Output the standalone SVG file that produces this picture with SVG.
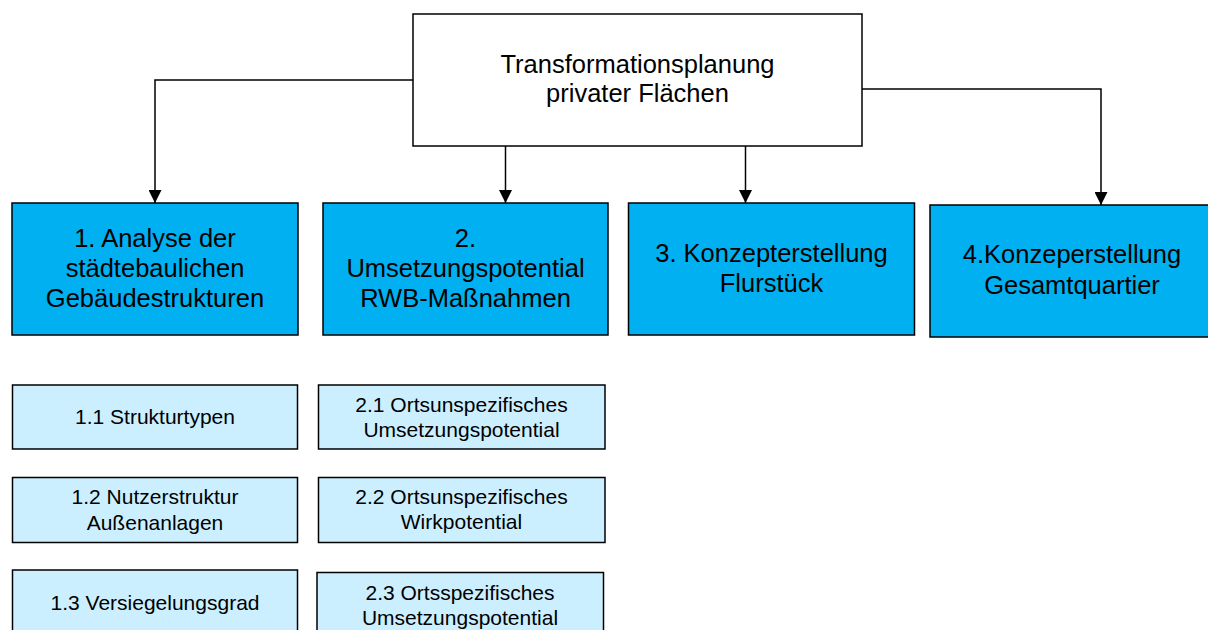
<svg xmlns="http://www.w3.org/2000/svg" width="1208" height="630" viewBox="0 0 1208 630">
<style>
  text { font-family: "Liberation Sans", Arial, sans-serif; fill: #000; text-anchor: middle; }
  .top { fill: #fff; stroke: #000; stroke-width: 1.5; }
  .main { fill: #00B0F0; stroke: #000; stroke-width: 1.5; }
  .sub { fill: #CCEFFF; stroke: #000; stroke-width: 1.5; }
  .t26 { font-size: 25.5px; }
  .t25 { font-size: 25.5px; }
  .t21 { font-size: 21px; }
  .conn { fill: none; stroke: #000; stroke-width: 1.5; marker-end: url(#arr); }
</style>
<defs>
  <marker id="arr" markerWidth="14" markerHeight="13" refX="13" refY="6.5" orient="auto" markerUnits="userSpaceOnUse">
    <path d="M0,0 L13,6.5 L0,13 Z" fill="#000"/>
  </marker>
</defs>
<rect width="1208" height="630" fill="#fff"/>
<g id="connectors">
  <path class="conn" d="M413,80 H155 V203"/>
  <path class="conn" d="M505.5,146 V203"/>
  <path class="conn" d="M745.5,146 V203"/>
  <path class="conn" d="M862,89 H1101 V205"/>
</g>
<g id="root">
  <rect class="top" x="413" y="14" width="449" height="132"/>
  <text class="t26" x="637.5" y="73">Transformationsplanung</text>
  <text class="t26" x="637.5" y="102">privater Flächen</text>
</g>
<g id="n1">
  <rect class="main" x="12" y="203" width="286" height="132"/>
  <text class="t25" x="155" y="246.5">1. Analyse der</text>
  <text class="t25" x="155" y="276.5">städtebaulichen</text>
  <text class="t25" x="155" y="306.5">Gebäudestrukturen</text>
</g>
<g id="n2">
  <rect class="main" x="323" y="203" width="285" height="132"/>
  <text class="t25" x="465.5" y="246.5">2.</text>
  <text class="t25" x="465.5" y="276.5">Umsetzungspotential</text>
  <text class="t25" x="465.5" y="306.5">RWB-Maßnahmen</text>
</g>
<g id="n3">
  <rect class="main" x="628.5" y="203" width="286" height="132"/>
  <text class="t25" x="771.5" y="261.5">3. Konzepterstellung</text>
  <text class="t25" x="771.5" y="291.5">Flurstück</text>
</g>
<g id="n4">
  <rect class="main" x="930" y="205" width="284" height="132"/>
  <text class="t25" x="1072" y="263">4.Konzeperstellung</text>
  <text class="t25" x="1072" y="293.5">Gesamtquartier</text>
</g>
<g id="n11">
  <rect class="sub" x="12.5" y="385" width="285" height="64"/>
  <text class="t21" x="155" y="424">1.1 Strukturtypen</text>
</g>
<g id="n12">
  <rect class="sub" x="12.5" y="477.5" width="285" height="65"/>
  <text class="t21" x="155" y="503.5">1.2 Nutzerstruktur</text>
  <text class="t21" x="155" y="529.5">Außenanlagen</text>
</g>
<g id="n13">
  <rect class="sub" x="12.5" y="570" width="285" height="70"/>
  <text class="t21" x="155" y="609.5">1.3 Versiegelungsgrad</text>
</g>
<g id="n21">
  <rect class="sub" x="318.5" y="385" width="286.5" height="64"/>
  <text class="t21" x="461.5" y="411.5">2.1 Ortsunspezifisches</text>
  <text class="t21" x="461.5" y="436.5">Umsetzungspotential</text>
</g>
<g id="n22">
  <rect class="sub" x="318.5" y="477.5" width="286.5" height="65"/>
  <text class="t21" x="461.5" y="503.5">2.2 Ortsunspezifisches</text>
  <text class="t21" x="461.5" y="529">Wirkpotential</text>
</g>
<g id="n23">
  <rect class="sub" x="317" y="572.5" width="286.5" height="70"/>
  <text class="t21" x="460" y="600">2.3 Ortsspezifisches</text>
  <text class="t21" x="460" y="625">Umsetzungspotential</text>
</g>
</svg>
